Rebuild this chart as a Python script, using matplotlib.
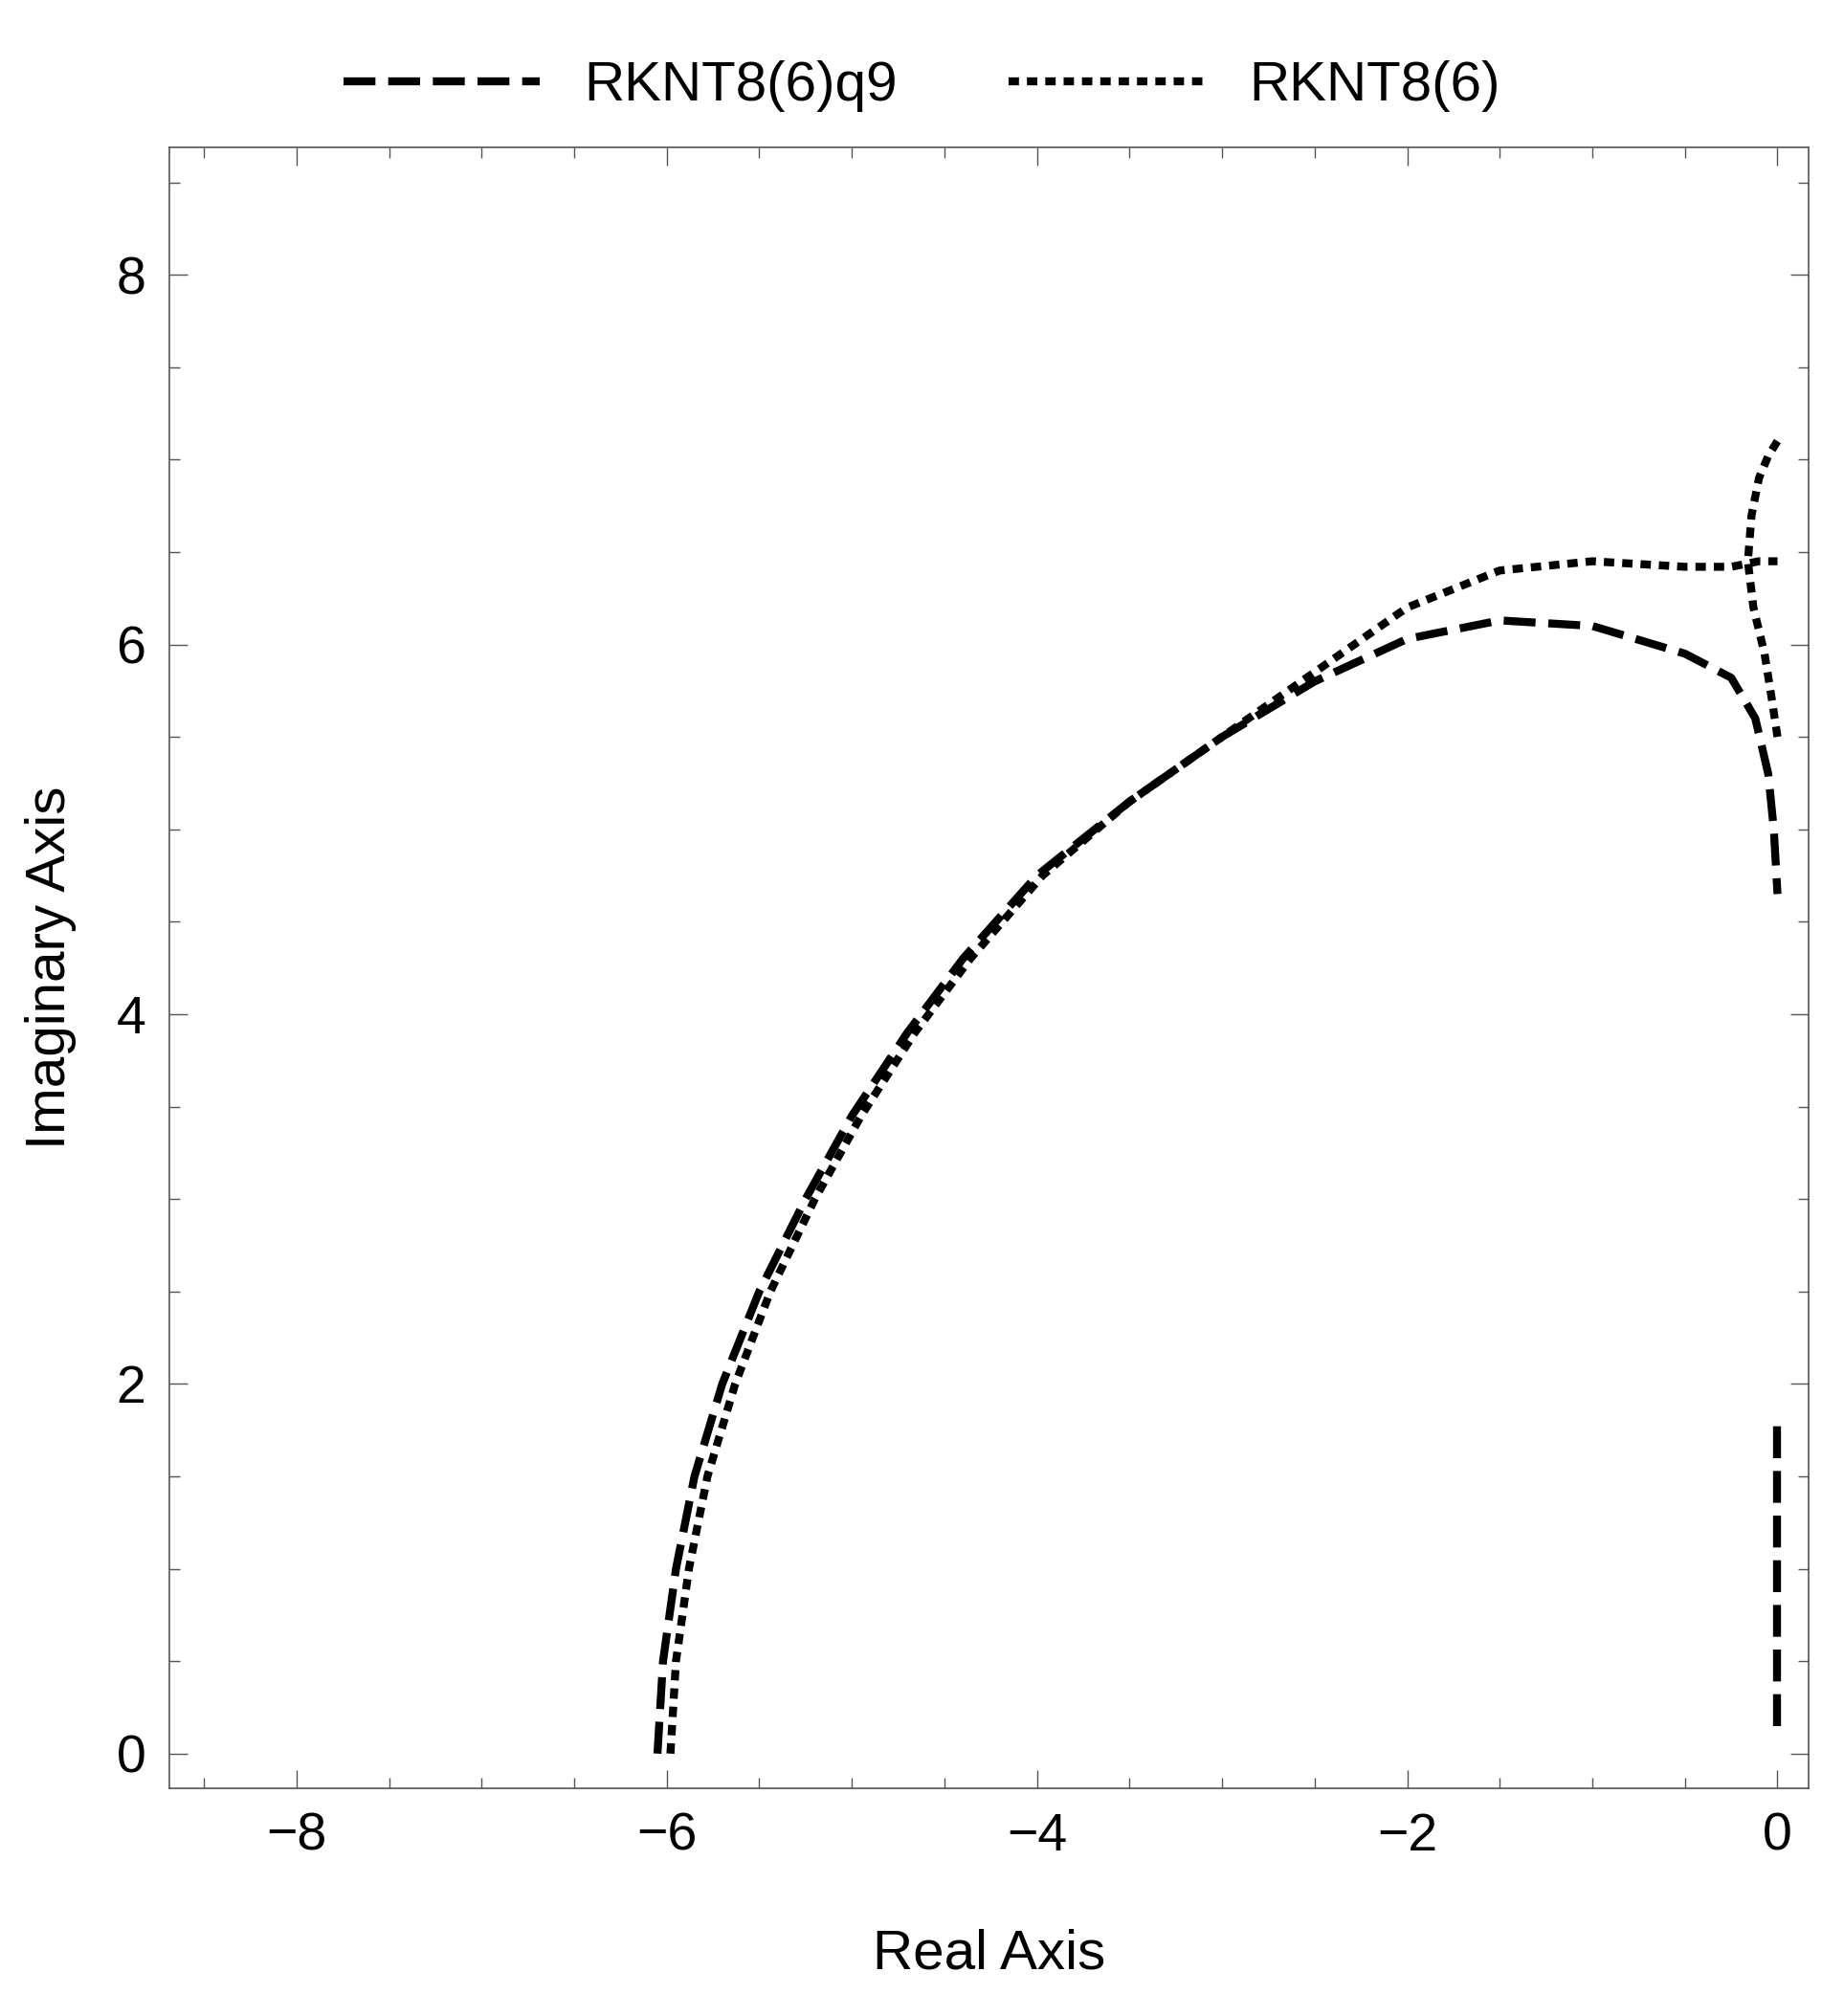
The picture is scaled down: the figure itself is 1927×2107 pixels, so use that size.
import matplotlib
matplotlib.use("Agg")
import matplotlib.pyplot as plt
from matplotlib.ticker import MultipleLocator

plt.rcParams["font.family"] = ["Liberation Sans", "DejaVu Sans"]

# RKNT8(6)q9 boundary (dashed)
q9_re = [-6.05, -6.02, -5.95, -5.85, -5.7, -5.5, -5.25, -5.0, -4.7, -4.4, -4.0, -3.5, -3.0,
         -2.5, -2.0, -1.5, -1.0, -0.5, -0.25, -0.12, -0.05, -0.02, 0.0]
q9_im = [0.0, 0.5, 1.0, 1.5, 2.0, 2.5, 3.0, 3.45, 3.9, 4.3, 4.75, 5.15, 5.5,
         5.8, 6.03, 6.13, 6.1, 5.95, 5.82, 5.6, 5.3, 5.0, 4.65]
q9_seg_re = [0.0, 0.0]
q9_seg_im = [0.15, 1.82]

# RKNT8(6) boundary (dotted)
base_re = [-5.98, -5.95, -5.88, -5.78, -5.63, -5.44, -5.2, -4.95, -4.66, -4.36, -3.97, -3.5, -3.0,
           -2.5, -2.0, -1.5, -1.0, -0.5, -0.25, -0.1, 0.0]
base_im = [0.0, 0.5, 1.0, 1.5, 2.0, 2.5, 3.0, 3.45, 3.9, 4.3, 4.75, 5.15, 5.5,
           5.85, 6.2, 6.4, 6.45, 6.42, 6.42, 6.45, 6.45]
base_br_re = [0.0, -0.05, -0.1, -0.14, -0.16, -0.13, -0.07, -0.03, 0.0]
base_br_im = [7.1, 7.02, 6.9, 6.7, 6.45, 6.2, 5.95, 5.7, 5.5]

fig = plt.figure(figsize=(19.27, 21.07), dpi=100)
ax = fig.add_axes([0.092, 0.113, 0.889, 0.814])

lw = 6
ax.plot(q9_re, q9_im, color="black", lw=lw, dashes=(4, 1.6), label="RKNT8(6)q9")
ax.plot(q9_seg_re, q9_seg_im, color="black", lw=lw, dashes=(4, 1.6))
ax.plot(base_re, base_im, color="black", lw=lw, dashes=(1.3, 1.0), label="RKNT8(6)")
ax.plot(base_br_re, base_br_im, color="black", lw=lw, dashes=(1.3, 1.0))

ax.set_xlim(-8.685, 0.17)
ax.set_ylim(-0.187, 8.69)
ax.xaxis.set_major_locator(MultipleLocator(2))
ax.xaxis.set_minor_locator(MultipleLocator(0.5))
ax.yaxis.set_major_locator(MultipleLocator(2))
ax.yaxis.set_minor_locator(MultipleLocator(0.5))
ax.set_xticks([-8, -6, -4, -2, 0], ["\u22128", "\u22126", "\u22124", "\u22122", "0"])
ax.tick_params(which="both", direction="in", top=True, right=True, width=1, color="#555555")
ax.tick_params(which="major", length=14, labelsize=40, pad=18)
ax.tick_params(which="minor", length=8)
for s in ax.spines.values():
    s.set_color("#555555")
    s.set_linewidth(1.2)

ax.set_xlabel("Real Axis", fontsize=42, labelpad=50)
ax.set_ylabel("Imaginary Axis", fontsize=42, labelpad=30)

fig.legend(loc="upper center", bbox_to_anchor=(0.5, 0.995), ncol=2, frameon=False,
           fontsize=42, handlelength=3.5, columnspacing=2.0)

fig.savefig("out.png", dpi=100)
